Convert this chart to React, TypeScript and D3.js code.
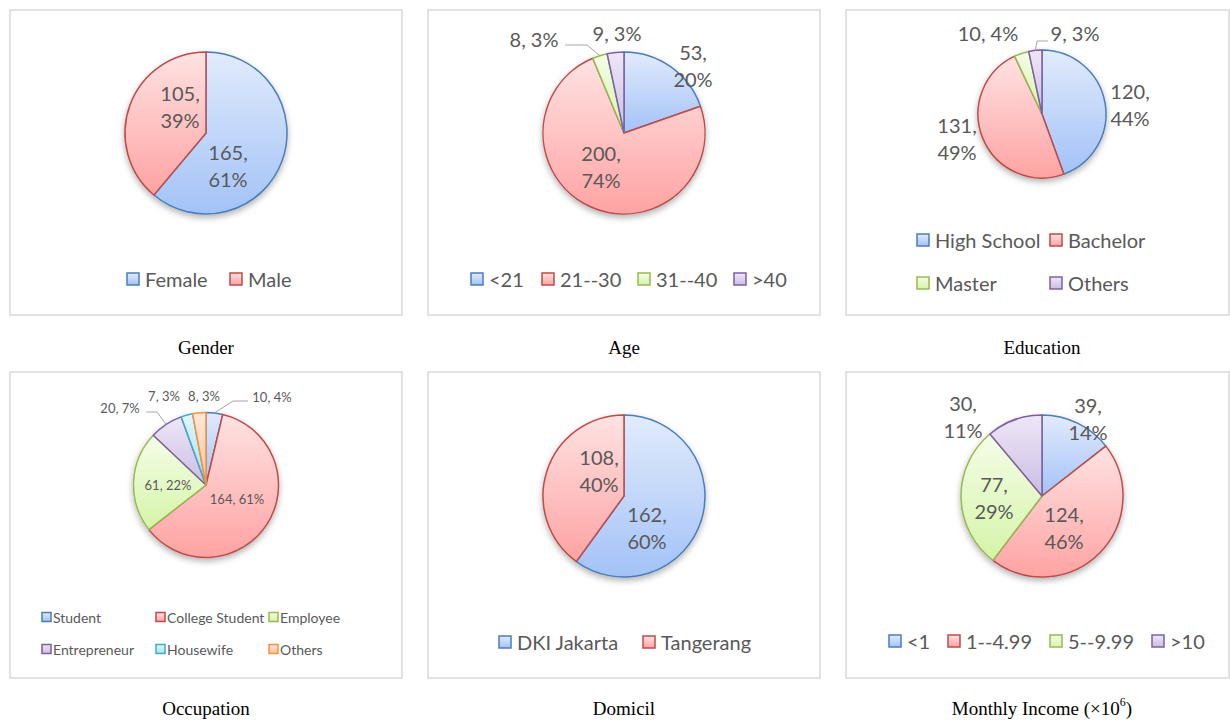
import React from "react";
import * as d3 from "d3";

// ---- data ----
const genderLabels = ["Female", "Male"];
const genderValues = [165, 105];
const genderPct = [61, 39];

const ageLabels = ["<21", "21--30", "31--40", ">40"];
const ageValues = [53, 200, 8, 9];
const agePct = [20, 74, 3, 3];

const eduLabels = ["High School", "Bachelor", "Master", "Others"];
const eduValues = [120, 131, 10, 9];
const eduPct = [44, 49, 4, 3];

const occLabels = ["Student", "College Student", "Employee", "Entrepreneur", "Housewife", "Others"];
const occValues = [10, 164, 61, 20, 7, 8];
const occPct = [4, 61, 22, 7, 3, 3];

const domLabels = ["DKI Jakarta", "Tangerang"];
const domValues = [162, 108];
const domPct = [60, 40];

const incLabels = ["<1", "1--4.99", "5--9.99", ">10"];
const incValues = [39, 124, 77, 30];
const incPct = [14, 46, 29, 11];

const captions = ["Gender", "Age", "Education", "Occupation", "Domicil", "Monthly Income"];

// ---- styling ----
const palette = {
  blue: { stroke: "#4a7ebb", top: "#e1ebfc", bottom: "#a3c2f7" },
  red: { stroke: "#be4b48", top: "#ffe2e2", bottom: "#ffa3a3" },
  green: { stroke: "#98b954", top: "#f5fde8", bottom: "#d5f4a8" },
  purple: { stroke: "#7d60a0", top: "#eee7f7", bottom: "#cbbde3" },
  cyan: { stroke: "#46aac5", top: "#e0f6fb", bottom: "#a6e3f2" },
  orange: { stroke: "#f69240", top: "#ffe8d8", bottom: "#ffc29e" },
};
type ColorKey = keyof typeof palette;
const order: ColorKey[] = ["blue", "red", "green", "purple", "cyan", "orange"];

const TEXT = "#595959";
const FONT = "Lato, 'Open Sans', sans-serif";

interface Panel {
  labels: string[];
  values: number[];
  pct: number[];
  caption: string;
  box: [number, number, number, number];
  cx: number;
  cy: number;
  r: number;
  fontSize: number;
  labelPos: [number, number][];
  twoLine: boolean[];
  leaders: ([number, number, number, number] | null)[];
  legend: [number, number][];
  legendSize: number;
  legendFont: number;
  captionX: number;
  captionY: number;
}

const panels: Panel[] = [
  {
    labels: genderLabels, values: genderValues, pct: genderPct, caption: captions[0],
    box: [10, 10, 392, 305], cx: 206, cy: 133, r: 81, fontSize: 20,
    labelPos: [[22, 32], [-26, -27]], twoLine: [true, true], leaders: [null, null],
    legend: [[127, 279], [230, 279]], legendSize: 12, legendFont: 20,
    captionX: 206, captionY: 347,
  },
  {
    labels: ageLabels, values: ageValues, pct: agePct, caption: captions[1],
    box: [428, 10, 392, 305], cx: 624, cy: 133, r: 81, fontSize: 20,
    labelPos: [[69, -68], [-23, 33], [-90, -94], [-7, -100]], twoLine: [true, true, false, false],
    leaders: [null, null, [-37, -88, -59, -88], null],
    legend: [[471, 279], [542, 279], [638, 279], [734, 279]], legendSize: 12, legendFont: 20,
    captionX: 624, captionY: 347,
  },
  {
    labels: eduLabels, values: eduValues, pct: eduPct, caption: captions[2],
    box: [846, 10, 383, 305], cx: 1042, cy: 114, r: 64, fontSize: 20,
    labelPos: [[88, -10], [-85, 24], [-54, -81], [33, -81]], twoLine: [true, true, false, false],
    leaders: [null, null, null, [-5, -73, 6, -73]],
    legend: [[917, 240], [1050, 240], [917, 283], [1050, 283]], legendSize: 12, legendFont: 20,
    captionX: 1042, captionY: 347,
  },
  {
    labels: occLabels, values: occValues, pct: occPct, caption: captions[3],
    box: [10, 372, 392, 306], cx: 206, cy: 485, r: 72.5, fontSize: 13,
    labelPos: [[66, -88], [31, 14], [-38, 0], [-86, -77], [-42, -89], [-2, -89]],
    twoLine: [false, false, false, false, false, false],
    leaders: [[27, -84, 42, -84], null, null, [-49, -73, -60, -73], null, null],
    legend: [[42, 617], [156, 617], [269, 617], [42, 649], [156, 649], [269, 649]],
    legendSize: 9, legendFont: 14,
    captionX: 206, captionY: 708,
  },
  {
    labels: domLabels, values: domValues, pct: domPct, caption: captions[4],
    box: [428, 372, 392, 306], cx: 624, cy: 496, r: 81, fontSize: 20,
    labelPos: [[23, 31], [-25, -26]], twoLine: [true, true], leaders: [null, null],
    legend: [[499, 642], [643, 642]], legendSize: 12, legendFont: 20,
    captionX: 624, captionY: 708,
  },
  {
    labels: incLabels, values: incValues, pct: incPct, caption: captions[5],
    box: [846, 372, 383, 306], cx: 1042, cy: 496, r: 81, fontSize: 20,
    labelPos: [[46, -78], [22, 31], [-48, 1], [-79, -80]], twoLine: [true, true, true, true],
    leaders: [null, null, null, null],
    legend: [[889, 641], [948, 641], [1050, 641], [1152, 641]], legendSize: 12, legendFont: 20,
    captionX: 1042, captionY: 708,
  },
];

const pieGen = d3.pie<number>().sort(null).value((d) => d);

function PiePanel({ p, idx }: { p: Panel; idx: number }) {
  const arcs = pieGen(p.values);
  const arc = d3.arc<d3.PieArcDatum<number>>().innerRadius(0).outerRadius(p.r);
  const lh = p.fontSize * 1.35;
  const [bx, by, bw, bh] = p.box;
  return (
    <g>
      <rect x={bx} y={by} width={bw} height={bh} fill="#fff" stroke="#d9d9d9" strokeWidth={1.5} />
      <g transform={`translate(${p.cx},${p.cy})`}>
        <g filter="url(#pieShadow)">
          {arcs.map((a, i) => {
            const c = order[i];
            return (
              <path
                key={i}
                d={arc(a) || ""}
                fill={`url(#grad-${c})`}
                stroke={palette[c].stroke}
                strokeWidth={1.5}
                strokeLinejoin="round"
              />
            );
          })}
        </g>
        {arcs.map((a, i) => {
          const ld = p.leaders[i];
          if (!ld) return null;
          const mid = (a.startAngle + a.endAngle) / 2;
          const sx = Math.sin(mid) * p.r;
          const sy = -Math.cos(mid) * p.r;
          return (
            <polyline
              key={`l${i}`}
              points={`${sx},${sy} ${ld[0]},${ld[1]} ${ld[2]},${ld[3]}`}
              fill="none"
              stroke="#a6a6a6"
              strokeWidth={1}
            />
          );
        })}
        {arcs.map((a, i) => {
          const [dx, dy] = p.labelPos[i];
          const v = p.values[i];
          const pc = p.pct[i];
          if (p.twoLine[i]) {
            return (
              <text key={`t${i}`} x={dx} y={dy} textAnchor="middle" fontFamily={FONT}
                fontSize={p.fontSize} fill={TEXT}>
                <tspan x={dx} y={dy - lh / 2} dominantBaseline="central">{`${v},`}</tspan>
                <tspan x={dx} y={dy + lh / 2} dominantBaseline="central">{`${pc}%`}</tspan>
              </text>
            );
          }
          return (
            <text key={`t${i}`} x={dx} y={dy} textAnchor="middle" dominantBaseline="central"
              fontFamily={FONT} fontSize={p.fontSize} fill={TEXT}>
              {`${v}, ${pc}%`}
            </text>
          );
        })}
      </g>
      {p.labels.map((lab, i) => {
        const [lx, ly] = p.legend[i];
        const c = order[i];
        const s = p.legendSize;
        return (
          <g key={`g${i}`}>
            <rect x={lx} y={ly - s / 2} width={s} height={s} fill={`url(#grad-${c})`}
              stroke={palette[c].stroke} strokeWidth={1.5} />
            <text x={lx + s + (s > 10 ? 6 : 2)} y={ly} dominantBaseline="central"
              fontFamily={FONT} fontSize={p.legendFont} fill={TEXT}>
              {lab}
            </text>
          </g>
        );
      })}
      <text x={p.captionX} y={p.captionY} textAnchor="middle" dominantBaseline="central"
        fontFamily="'Liberation Serif', 'Times New Roman', serif" fontSize={19} fill="#000">
        {p.caption}
        {idx === 5 ? (
          <>
            {" (×10"}
            <tspan dy={-6} fontSize={12}>6</tspan>
            <tspan dy={6}>)</tspan>
          </>
        ) : null}
      </text>
    </g>
  );
}

export default function App() {
  return (
    <svg
      width={1230}
      height={720}
      style={{ position: "absolute", left: 0, top: 0, background: "#fff" }}
    >
      <defs>
        {order.map((c) => (
          <linearGradient key={c} id={`grad-${c}`} x1="0" y1="0" x2="0" y2="1">
            <stop offset="0%" stopColor={palette[c].top} />
            <stop offset="100%" stopColor={palette[c].bottom} />
          </linearGradient>
        ))}
        <filter id="pieShadow" x="-20%" y="-20%" width="140%" height="150%">
          <feDropShadow dx="0" dy="3" stdDeviation="3" floodColor="#000" floodOpacity="0.3" />
        </filter>
      </defs>
      <rect width={1230} height={720} fill="#fff" />
      {panels.map((p, i) => (
        <PiePanel key={i} p={p} idx={i} />
      ))}
    </svg>
  );
}
